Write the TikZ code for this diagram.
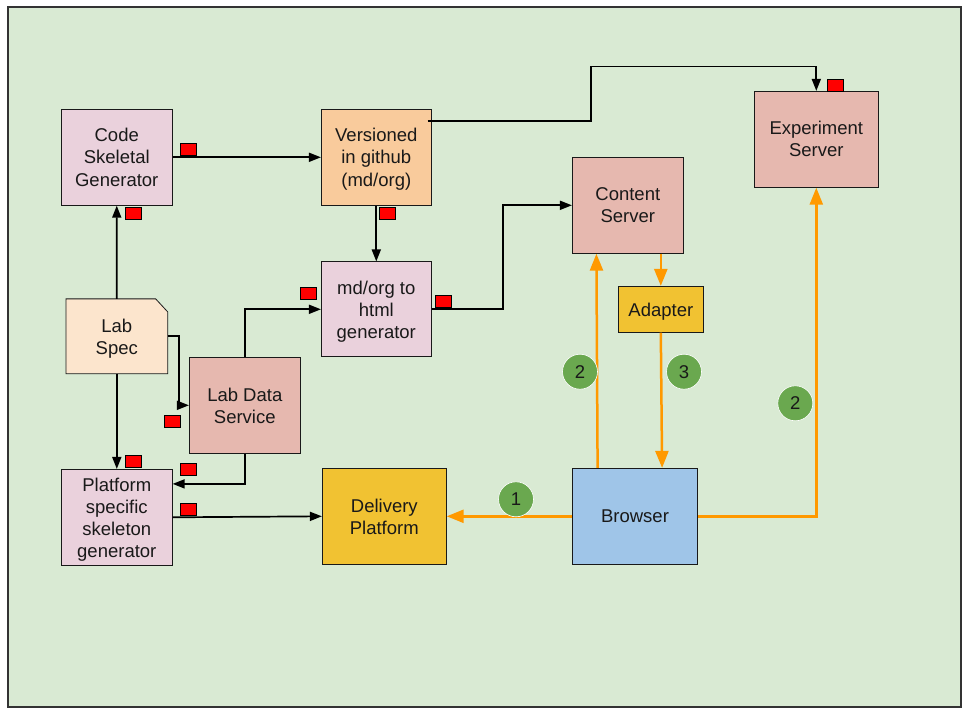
\documentclass[tikz,border=0pt]{standalone}
\usepackage{fontspec}
\setmainfont{Liberation Sans}
\usetikzlibrary{arrows.meta,calc,backgrounds}
\definecolor{bgc}{HTML}{D9EAD3}
\definecolor{pinkc}{HTML}{EAD1DC}
\definecolor{peachc}{HTML}{F9CB9C}
\definecolor{specc}{HTML}{FCE5CD}
\definecolor{rosec}{HTML}{E6B8AF}
\definecolor{goldc}{HTML}{F1C232}
\definecolor{bluec}{HTML}{9FC5E8}
\definecolor{grnc}{HTML}{6AA84F}
\definecolor{orc}{HTML}{FF9900}
\begin{document}
\begin{tikzpicture}[x=1pt,y=-1pt,
  box/.style={draw=black!90, line width=0.8pt, inner sep=0pt, align=center,
    font=\fontsize{18.5}{22}\selectfont, text=black!90, text depth=0pt},
  redsq/.style={draw=black, fill=red, line width=0.7pt, minimum width=16pt,
    minimum height=12pt, inner sep=0pt},
  circ/.style={circle, fill=grnc, draw=white, line width=0.6pt, minimum size=35pt,
    inner sep=0pt, font=\fontsize{18.5}{22}\selectfont, text=black!90},
  blk/.style={draw=black, line width=1.7pt, -{Triangle[length=12pt,width=9pt]}},
  org/.style={draw=orc, line width=2.5pt, -{Triangle[length=17pt,width=13pt]}}]
\useasboundingbox (0,0) rectangle (966,708);
\begin{scope}[on background layer]
\fill[white] (0,0) rectangle (966,708);
\draw[fill=bgc, draw=black!80, line width=1.2pt] (8,7) rectangle (961,707);
\end{scope}

% nodes
\node[box, fill=pinkc, minimum width=111pt, minimum height=96pt] (csg) at (116.75,157.3) {Code\\Skeletal\\Generator};
\node[box, fill=peachc, minimum width=110pt, minimum height=96pt] (ver) at (376.3,157.3) {Versioned\\in github\\(md/org)};
\node[box, fill=pinkc, minimum width=110pt, minimum height=95pt] (md) at (376.3,309.3) {md/org to\\html\\generator};
\node[box, draw=none, minimum width=101pt, minimum height=74pt] (spec) at (116.8,336.3) {Lab\\Spec};
\begin{scope}[on background layer]
\draw[fill=specc, draw=black!90, line width=0.8pt] (spec.south west) -- (spec.north west)
  -- ($(spec.north east)+(-12,0)$) -- ($(spec.north east)+(0,13)$) -- (spec.south east) -- cycle;
\end{scope}
\node[box, fill=rosec, minimum width=111pt, minimum height=96pt] (lds) at (244.8,405.3) {Lab Data\\Service};
\node[box, fill=pinkc, minimum width=111pt, minimum height=96pt] (pssg) at (116.8,517.3) {Platform\\specific\\skeleton\\generator};
\node[box, fill=goldc, minimum width=124pt, minimum height=96pt] (dp) at (384.3,516.3) {Delivery\\Platform};
\node[box, fill=rosec, minimum width=111pt, minimum height=96pt] (cs) at (627.8,205.3) {Content\\Server};
\node[box, fill=rosec, minimum width=124pt, minimum height=96pt] (exp) at (816.3,139.3) {Experiment\\Server};
\node[box, fill=goldc, minimum width=85pt, minimum height=46pt] (ad) at (660.8,309.3) {Adapter};
\node[box, fill=bluec, minimum width=125pt, minimum height=96pt] (br) at (635,516.3) {Browser};

% black connectors
\draw[blk] (csg.east) -- (ver.west);
\draw[blk] (spec.north) -- (csg.south);
\draw[blk] (ver.south) -- (md.north);
\draw[blk] (lds.north) |- (md.west);
\draw[blk] (spec.east) -- ++(11,0) |- (lds.west);
\draw[blk] (spec.south) -- (pssg.north);
\coordinate (pin) at ($(pssg.north east)+(0,15)$);
\draw[blk] (lds.south) |- (pin);
\draw[blk] (pssg.east) -- (dp.west);
\draw[blk] (md.east) -- ++(71,0) |- (cs.west);
\coordinate (vstart) at ($(ver.north east)+(-4,12)$);
\draw[blk] (vstart) -- ++(163,0) |- ($(exp.north)+(0,-24.5)$) -- (exp.north);

% orange connectors
\coordinate (bt) at ($(br.north west)+(25.5,0)$);
\coordinate (cb) at ($(cs.south west)+(24.5,0)$);
\draw[org] (bt) -- (cb);
\draw[org] (cs.south -| ad.north) -- (ad.north);
\draw[org] (ad.south) -- ($(br.north west)+(90,0)$);
\draw[org] (br.west) -- (dp.east);
\draw[org] (br.east) -| (exp.south);

% red squares
\node[redsq] (r1) at (188.5,149.7) {};
\node[redsq] (r2) at (133,213.7) {};
\node[redsq] (r3) at (387.8,213.7) {};
\node[redsq] (r4) at (308.3,293.7) {};
\node[redsq] (r5) at (443.8,301.8) {};
\node[redsq] (r6) at (172.3,421.8) {};
\node[redsq] (r7) at (133,461.8) {};
\node[redsq] (r8) at (188.5,469.7) {};
\node[redsq] (r9) at (188.5,509.8) {};
\node[redsq] (r10) at (835.8,85.8) {};

% numbered circles
\node[circ] (c2a) at (580,371.7) {2};
\node[circ] (c3) at (684,371.7) {3};
\node[circ] (c2b) at (795.3,403.3) {2};
\node[circ] (c1) at (516,499.3) {1};
\end{tikzpicture}
\end{document}
